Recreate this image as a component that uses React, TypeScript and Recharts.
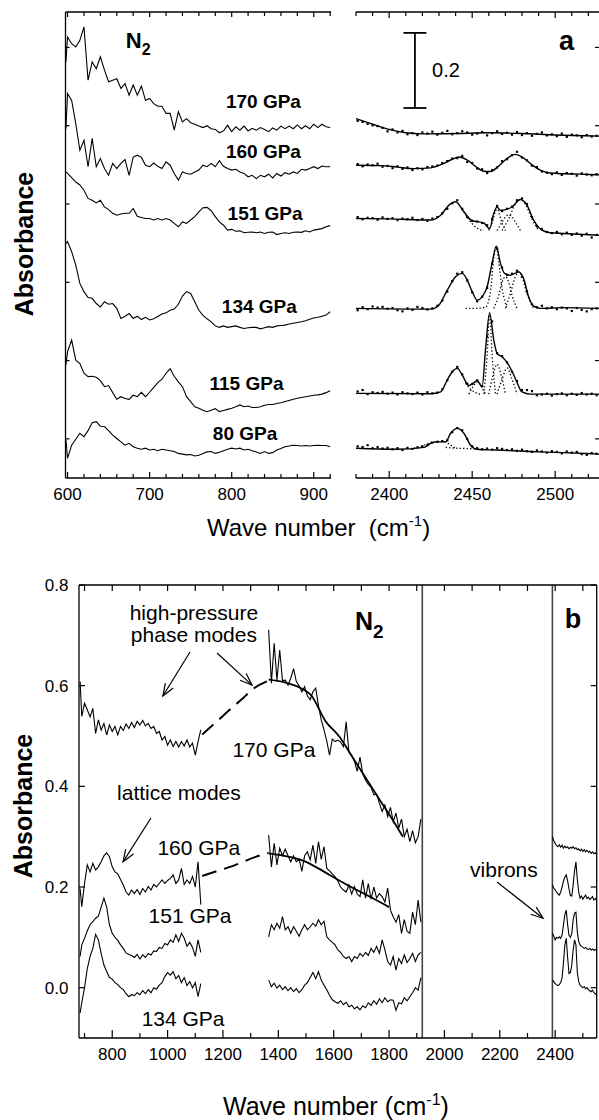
import React from 'react';
import { ComposedChart, Line, Scatter, XAxis, YAxis, ReferenceLine, ReferenceDot } from 'recharts';

const FONT = '"Liberation Sans", Arial, Helvetica, sans-serif';

// ---------------- Panel a (left): low-frequency spectra ----------------
const WN_A = [598, 600, 605, 610, 615, 620, 625, 630, 635, 640, 645, 650, 655, 660, 665, 670, 675, 680, 685, 690, 695, 700, 705, 710, 715, 720, 725, 730, 735, 740, 745, 750, 755, 760, 765, 770, 775, 780, 785, 790, 795, 800, 805, 810, 815, 820, 825, 830, 835, 840, 845, 850, 855, 860, 865, 870, 875, 880, 885, 890, 895, 900, 905, 910, 915, 920];
const A170 = [1.116, 1.183, 1.165, 1.156, 1.174, 1.210, 1.067, 1.116, 1.098, 1.130, 1.094, 1.063, 1.067, 1.071, 1.045, 1.058, 1.027, 1.054, 1.027, 1.051, 1.013, 1.018, 1.004, 0.997, 0.997, 0.978, 0.978, 0.933, 0.982, 0.955, 0.964, 0.953, 0.949, 0.944, 0.940, 0.945, 0.937, 0.935, 0.926, 0.931, 0.946, 0.929, 0.942, 0.933, 0.944, 0.931, 0.938, 0.933, 0.940, 0.935, 0.929, 0.939, 0.933, 0.944, 0.937, 0.944, 0.937, 0.947, 0.937, 0.945, 0.937, 0.949, 0.940, 0.949, 0.942, 0.940];
const A160 = [0.937, 1.031, 1.013, 0.951, 0.879, 0.906, 0.835, 0.911, 0.835, 0.857, 0.830, 0.812, 0.844, 0.830, 0.844, 0.854, 0.812, 0.861, 0.866, 0.860, 0.839, 0.835, 0.845, 0.836, 0.830, 0.848, 0.839, 0.817, 0.799, 0.821, 0.817, 0.815, 0.821, 0.826, 0.839, 0.835, 0.844, 0.835, 0.851, 0.836, 0.830, 0.826, 0.828, 0.821, 0.817, 0.808, 0.812, 0.803, 0.812, 0.808, 0.815, 0.805, 0.817, 0.810, 0.819, 0.815, 0.821, 0.817, 0.828, 0.826, 0.830, 0.835, 0.830, 0.837, 0.835, 0.835];
const A151 = [0.821, 0.817, 0.806, 0.794, 0.786, 0.772, 0.750, 0.745, 0.738, 0.745, 0.727, 0.720, 0.710, 0.705, 0.708, 0.710, 0.710, 0.723, 0.702, 0.699, 0.696, 0.696, 0.692, 0.696, 0.692, 0.696, 0.692, 0.683, 0.674, 0.687, 0.683, 0.692, 0.701, 0.714, 0.725, 0.726, 0.717, 0.701, 0.687, 0.678, 0.665, 0.667, 0.662, 0.663, 0.658, 0.659, 0.660, 0.658, 0.660, 0.656, 0.659, 0.660, 0.653, 0.656, 0.658, 0.656, 0.659, 0.660, 0.659, 0.663, 0.660, 0.665, 0.667, 0.669, 0.674, 0.677];
const A134 = [0.629, 0.634, 0.607, 0.571, 0.522, 0.500, 0.484, 0.482, 0.468, 0.459, 0.473, 0.466, 0.468, 0.455, 0.428, 0.434, 0.441, 0.428, 0.434, 0.425, 0.431, 0.424, 0.427, 0.433, 0.440, 0.443, 0.450, 0.453, 0.466, 0.488, 0.500, 0.495, 0.473, 0.450, 0.436, 0.427, 0.419, 0.408, 0.404, 0.408, 0.404, 0.406, 0.408, 0.404, 0.401, 0.403, 0.404, 0.404, 0.400, 0.403, 0.406, 0.404, 0.408, 0.409, 0.410, 0.413, 0.415, 0.417, 0.419, 0.422, 0.426, 0.429, 0.431, 0.434, 0.437, 0.446];
const A115 = [0.303, 0.339, 0.370, 0.316, 0.307, 0.281, 0.272, 0.273, 0.270, 0.261, 0.245, 0.248, 0.229, 0.211, 0.218, 0.213, 0.211, 0.222, 0.218, 0.230, 0.218, 0.230, 0.243, 0.256, 0.265, 0.281, 0.293, 0.273, 0.258, 0.245, 0.218, 0.205, 0.191, 0.187, 0.182, 0.178, 0.182, 0.186, 0.178, 0.181, 0.184, 0.187, 0.191, 0.196, 0.191, 0.193, 0.189, 0.189, 0.191, 0.195, 0.197, 0.197, 0.200, 0.202, 0.205, 0.208, 0.211, 0.214, 0.216, 0.218, 0.220, 0.222, 0.223, 0.225, 0.229, 0.234];
const A80 = [0.102, 0.053, 0.088, 0.104, 0.120, 0.111, 0.127, 0.148, 0.151, 0.139, 0.138, 0.127, 0.115, 0.106, 0.097, 0.088, 0.093, 0.084, 0.080, 0.077, 0.080, 0.075, 0.077, 0.073, 0.077, 0.075, 0.073, 0.071, 0.066, 0.064, 0.062, 0.063, 0.059, 0.061, 0.066, 0.070, 0.071, 0.066, 0.069, 0.073, 0.077, 0.080, 0.078, 0.080, 0.075, 0.077, 0.073, 0.070, 0.066, 0.071, 0.066, 0.068, 0.075, 0.079, 0.084, 0.086, 0.088, 0.087, 0.086, 0.087, 0.086, 0.087, 0.088, 0.087, 0.087, 0.084];

// ---------------- Panel a (right): vibron region, measured points ----------------
const DOT_X = [2381, 2384, 2387, 2390, 2393, 2396, 2399, 2402, 2405, 2408, 2411, 2414, 2417, 2420, 2423, 2426, 2429, 2432, 2435, 2438, 2441, 2444, 2447, 2450, 2453, 2456, 2459, 2462, 2465, 2468, 2471, 2474, 2477, 2480, 2483, 2486, 2489, 2492, 2495, 2498, 2501, 2504, 2507, 2510, 2513, 2516, 2519, 2522, 2525];
const D170 = [0.958, 0.955, 0.950, 0.946, 0.944, 0.939, 0.930, 0.935, 0.927, 0.931, 0.922, 0.925, 0.920, 0.927, 0.924, 0.929, 0.921, 0.926, 0.931, 0.922, 0.925, 0.930, 0.927, 0.921, 0.924, 0.928, 0.919, 0.925, 0.930, 0.923, 0.926, 0.921, 0.928, 0.920, 0.925, 0.918, 0.923, 0.927, 0.919, 0.922, 0.917, 0.924, 0.915, 0.921, 0.919, 0.914, 0.920, 0.916, 0.918];
const D160 = [0.842, 0.836, 0.841, 0.839, 0.843, 0.835, 0.837, 0.831, 0.836, 0.829, 0.833, 0.826, 0.831, 0.828, 0.834, 0.836, 0.838, 0.845, 0.850, 0.857, 0.858, 0.864, 0.848, 0.845, 0.830, 0.828, 0.818, 0.826, 0.833, 0.850, 0.855, 0.866, 0.875, 0.860, 0.852, 0.838, 0.834, 0.822, 0.819, 0.815, 0.820, 0.813, 0.818, 0.816, 0.811, 0.817, 0.814, 0.812, 0.815];
const D151 = [0.700, 0.694, 0.698, 0.697, 0.693, 0.699, 0.695, 0.697, 0.692, 0.696, 0.694, 0.698, 0.692, 0.695, 0.690, 0.696, 0.700, 0.710, 0.722, 0.737, 0.745, 0.722, 0.700, 0.690, 0.688, 0.684, 0.678, 0.695, 0.730, 0.716, 0.722, 0.728, 0.745, 0.750, 0.735, 0.700, 0.675, 0.668, 0.660, 0.657, 0.660, 0.654, 0.658, 0.652, 0.656, 0.650, 0.655, 0.645, 0.652];
const D134 = [0.450, 0.458, 0.453, 0.460, 0.457, 0.459, 0.454, 0.456, 0.450, 0.447, 0.455, 0.451, 0.459, 0.456, 0.452, 0.455, 0.462, 0.476, 0.500, 0.528, 0.548, 0.552, 0.530, 0.498, 0.474, 0.486, 0.510, 0.575, 0.615, 0.565, 0.545, 0.548, 0.556, 0.540, 0.500, 0.466, 0.458, 0.462, 0.455, 0.458, 0.453, 0.457, 0.455, 0.448, 0.456, 0.451, 0.447, 0.453, 0.455];
const D115 = [0.232, 0.236, 0.225, 0.230, 0.228, 0.231, 0.226, 0.229, 0.224, 0.230, 0.227, 0.225, 0.229, 0.224, 0.230, 0.227, 0.229, 0.238, 0.262, 0.285, 0.298, 0.278, 0.253, 0.252, 0.262, 0.246, 0.380, 0.420, 0.335, 0.327, 0.310, 0.285, 0.260, 0.236, 0.236, 0.233, 0.222, 0.224, 0.226, 0.221, 0.225, 0.227, 0.222, 0.226, 0.223, 0.228, 0.224, 0.226, 0.222];
const D80 = [0.085, 0.083, 0.088, 0.080, 0.083, 0.079, 0.081, 0.077, 0.080, 0.075, 0.081, 0.078, 0.082, 0.085, 0.088, 0.095, 0.097, 0.099, 0.101, 0.123, 0.134, 0.128, 0.105, 0.085, 0.080, 0.077, 0.079, 0.076, 0.080, 0.078, 0.075, 0.077, 0.073, 0.076, 0.072, 0.070, 0.074, 0.071, 0.068, 0.072, 0.070, 0.066, 0.071, 0.068, 0.070, 0.064, 0.062, 0.067, 0.065];

// fitted curves
const F170_X = [2380, 2390, 2400, 2410, 2420, 2440, 2460, 2480, 2500, 2527];
const F170_Y = [0.964, 0.949, 0.935, 0.926, 0.923, 0.924, 0.926, 0.924, 0.920, 0.917];
const F160_X = [2380, 2395, 2405, 2415, 2425, 2432, 2437, 2442, 2447, 2452, 2457, 2461, 2466, 2471, 2476, 2481, 2486, 2491, 2497, 2505, 2515, 2527];
const F160_Y = [0.839, 0.838, 0.834, 0.830, 0.832, 0.842, 0.853, 0.861, 0.853, 0.836, 0.823, 0.822, 0.837, 0.857, 0.868, 0.858, 0.840, 0.826, 0.818, 0.816, 0.815, 0.813];
const F151_X = [2380, 2400, 2425, 2431, 2436, 2440, 2445, 2450, 2454, 2457, 2460.5, 2463, 2465, 2467, 2470, 2474, 2479, 2483, 2487, 2492, 2497, 2505, 2527];
const F151_Y = [0.696, 0.695, 0.692, 0.705, 0.732, 0.741, 0.714, 0.690, 0.687, 0.684, 0.669, 0.710, 0.727, 0.718, 0.720, 0.727, 0.747, 0.732, 0.692, 0.665, 0.658, 0.656, 0.651];
const F134_X = [2380, 2425, 2430, 2435, 2440, 2444, 2447, 2450, 2453, 2456, 2459, 2462, 2464.5, 2467, 2469.5, 2473, 2478, 2481, 2484, 2487, 2491, 2505, 2527];
const F134_Y = [0.455, 0.453, 0.464, 0.504, 0.540, 0.549, 0.531, 0.500, 0.477, 0.486, 0.513, 0.576, 0.622, 0.576, 0.549, 0.544, 0.553, 0.535, 0.486, 0.461, 0.455, 0.457, 0.455];
const F115_X = [2380, 2425, 2431, 2435, 2438, 2441, 2444, 2448, 2451, 2453, 2456, 2458, 2460.5, 2463, 2465, 2468, 2472, 2476, 2480, 2485, 2505, 2527];
const F115_Y = [0.227, 0.226, 0.231, 0.263, 0.285, 0.294, 0.276, 0.248, 0.256, 0.261, 0.245, 0.343, 0.443, 0.370, 0.334, 0.325, 0.303, 0.267, 0.231, 0.225, 0.225, 0.225];
const F80_X = [2380, 2404, 2421, 2425, 2429, 2434, 2437, 2441, 2445, 2449, 2453, 2465, 2485, 2505, 2527];
const F80_Y = [0.080, 0.077, 0.082, 0.093, 0.097, 0.097, 0.120, 0.133, 0.120, 0.088, 0.077, 0.075, 0.071, 0.068, 0.064];

// fitted components (dotted)
const COMPONENTS: { x: number[]; y: number[] }[] = [
  { x: [2444, 2447, 2450, 2453, 2457], y: [0.722, 0.700, 0.682, 0.670, 0.664] },
  { x: [2460, 2462, 2464, 2465, 2466, 2468, 2470], y: [0.664, 0.685, 0.715, 0.727, 0.712, 0.684, 0.664] },
  { x: [2465, 2467.5, 2470, 2472, 2474, 2476.5, 2479], y: [0.664, 0.683, 0.700, 0.706, 0.700, 0.683, 0.664] },
  { x: [2468, 2472, 2476, 2479, 2482, 2486, 2490], y: [0.664, 0.695, 0.735, 0.747, 0.735, 0.695, 0.664] },
  { x: [2446, 2452, 2458, 2461, 2463, 2464.5, 2466, 2468, 2471], y: [0.455, 0.455, 0.458, 0.500, 0.590, 0.622, 0.580, 0.510, 0.455] },
  { x: [2463, 2466, 2468, 2470, 2472, 2474, 2477], y: [0.455, 0.490, 0.525, 0.540, 0.525, 0.490, 0.455] },
  { x: [2470, 2473, 2476, 2478, 2480, 2483, 2487], y: [0.455, 0.495, 0.540, 0.553, 0.540, 0.495, 0.455] },
  { x: [2446, 2449, 2452, 2455], y: [0.255, 0.238, 0.229, 0.225] },
  { x: [2448, 2450.5, 2453, 2455.5, 2458], y: [0.225, 0.245, 0.258, 0.245, 0.225] },
  { x: [2457, 2459, 2460.5, 2462, 2464], y: [0.225, 0.330, 0.443, 0.330, 0.225] },
  { x: [2460, 2462.5, 2465, 2467.5, 2470], y: [0.225, 0.275, 0.305, 0.275, 0.225] },
  { x: [2465, 2468, 2471, 2474, 2477], y: [0.225, 0.265, 0.295, 0.265, 0.225] },
  { x: [2415, 2420, 2425, 2430, 2434, 2437, 2440], y: [0.080, 0.086, 0.095, 0.098, 0.096, 0.088, 0.080] },
  { x: [2434, 2440, 2446, 2452], y: [0.082, 0.080, 0.079, 0.078] },
];

// ---------------- Panel b ----------------
const B_LOW_X = [684, 690, 700, 710, 720, 730, 740, 750, 760, 770, 780, 790, 800, 810, 820, 830, 840, 850, 860, 870, 880, 890, 900, 910, 920, 930, 940, 950, 960, 970, 980, 990, 1000, 1010, 1020, 1030, 1040, 1050, 1060, 1070, 1080, 1090, 1100, 1110, 1120];
const B_MID_X = [1365, 1375, 1385, 1395, 1405, 1415, 1425, 1435, 1445, 1455, 1465, 1475, 1485, 1495, 1505, 1515, 1525, 1535, 1545, 1555, 1565, 1575, 1585, 1595, 1605, 1615, 1625, 1635, 1645, 1655, 1665, 1675, 1685, 1695, 1705, 1715, 1725, 1735, 1745, 1755, 1765, 1775, 1785, 1795, 1805, 1815, 1825, 1835, 1845, 1855, 1865, 1875, 1885, 1895, 1905, 1915];
const B_VIB_X = [2390, 2395, 2400, 2405, 2410, 2415, 2420, 2425, 2430, 2435, 2440, 2445, 2450, 2455, 2460, 2465, 2470, 2475, 2480, 2485, 2490, 2495, 2500, 2505, 2510, 2515, 2520, 2525, 2530, 2535, 2540, 2545, 2550];

const B170_LOW = [0.608, 0.539, 0.565, 0.552, 0.538, 0.555, 0.505, 0.532, 0.512, 0.525, 0.502, 0.522, 0.509, 0.519, 0.502, 0.519, 0.511, 0.524, 0.515, 0.527, 0.517, 0.529, 0.522, 0.531, 0.520, 0.525, 0.515, 0.519, 0.505, 0.509, 0.492, 0.499, 0.482, 0.492, 0.479, 0.489, 0.478, 0.489, 0.480, 0.492, 0.478, 0.486, 0.462, 0.489, 0.512];
const B160_LOW = [0.197, 0.161, 0.207, 0.244, 0.230, 0.247, 0.234, 0.240, 0.250, 0.262, 0.268, 0.260, 0.240, 0.230, 0.226, 0.215, 0.204, 0.190, 0.184, 0.194, 0.187, 0.195, 0.185, 0.197, 0.190, 0.201, 0.194, 0.205, 0.200, 0.207, 0.214, 0.207, 0.213, 0.217, 0.224, 0.207, 0.214, 0.237, 0.205, 0.214, 0.207, 0.221, 0.200, 0.250, 0.165];
const B151_LOW = [0.062, 0.085, 0.098, 0.113, 0.125, 0.131, 0.138, 0.142, 0.160, 0.178, 0.160, 0.125, 0.108, 0.100, 0.094, 0.085, 0.078, 0.069, 0.066, 0.064, 0.060, 0.066, 0.057, 0.065, 0.060, 0.068, 0.065, 0.073, 0.072, 0.080, 0.078, 0.088, 0.085, 0.095, 0.090, 0.105, 0.092, 0.108, 0.098, 0.082, 0.090, 0.080, 0.062, 0.095, 0.070];
const B134_LOW = [-0.050, -0.030, 0.000, 0.038, 0.062, 0.078, 0.106, 0.095, 0.068, 0.045, 0.032, 0.020, 0.017, 0.010, 0.006, 0.000, -0.004, -0.012, -0.018, -0.014, -0.016, -0.010, -0.014, -0.006, -0.012, -0.004, -0.010, 0.000, -0.003, 0.005, 0.010, 0.022, 0.030, 0.025, 0.032, 0.018, 0.024, 0.010, 0.020, 0.004, 0.012, 0.000, 0.010, -0.018, 0.008];

const B170_MID = [0.711, 0.605, 0.684, 0.611, 0.671, 0.610, 0.611, 0.601, 0.615, 0.634, 0.608, 0.600, 0.588, 0.598, 0.580, 0.572, 0.588, 0.595, 0.560, 0.532, 0.512, 0.490, 0.462, 0.494, 0.489, 0.492, 0.488, 0.479, 0.528, 0.468, 0.462, 0.450, 0.430, 0.458, 0.425, 0.412, 0.404, 0.398, 0.383, 0.385, 0.366, 0.350, 0.363, 0.340, 0.358, 0.330, 0.347, 0.317, 0.335, 0.300, 0.315, 0.290, 0.312, 0.288, 0.300, 0.335];
const B160_MID = [0.303, 0.240, 0.287, 0.244, 0.277, 0.262, 0.275, 0.262, 0.250, 0.262, 0.250, 0.256, 0.231, 0.262, 0.270, 0.254, 0.283, 0.247, 0.290, 0.255, 0.280, 0.237, 0.232, 0.226, 0.220, 0.212, 0.200, 0.194, 0.190, 0.204, 0.186, 0.201, 0.186, 0.181, 0.214, 0.178, 0.207, 0.176, 0.200, 0.178, 0.187, 0.181, 0.170, 0.198, 0.154, 0.141, 0.130, 0.145, 0.108, 0.135, 0.112, 0.108, 0.150, 0.125, 0.174, 0.130];
const B151_MID = [0.101, 0.125, 0.115, 0.128, 0.118, 0.141, 0.115, 0.121, 0.108, 0.121, 0.112, 0.102, 0.115, 0.125, 0.115, 0.121, 0.128, 0.122, 0.135, 0.125, 0.132, 0.101, 0.095, 0.090, 0.085, 0.075, 0.070, 0.062, 0.058, 0.062, 0.052, 0.062, 0.058, 0.068, 0.062, 0.070, 0.064, 0.078, 0.070, 0.082, 0.068, 0.095, 0.075, 0.052, 0.045, 0.062, 0.035, 0.058, 0.048, 0.065, 0.050, 0.058, 0.068, 0.052, 0.065, 0.070];
const B134_MID = [0.015, 0.002, 0.009, -0.001, 0.005, -0.004, 0.002, -0.006, 0.000, -0.008, -0.002, -0.010, -0.004, 0.005, 0.010, 0.020, 0.030, 0.018, 0.032, 0.015, 0.005, -0.004, -0.015, -0.024, -0.028, -0.031, -0.026, -0.034, -0.029, -0.038, -0.035, -0.042, -0.038, -0.044, -0.036, -0.040, -0.030, -0.035, -0.026, -0.033, -0.022, -0.030, -0.020, -0.028, -0.024, -0.025, -0.045, -0.030, -0.032, -0.020, -0.026, -0.018, -0.010, 0.000, -0.005, 0.020];

const V170 = [0.300, 0.292, 0.287, 0.282, 0.280, 0.284, 0.279, 0.283, 0.277, 0.281, 0.278, 0.280, 0.276, 0.279, 0.277, 0.280, 0.276, 0.278, 0.274, 0.276, 0.272, 0.275, 0.271, 0.274, 0.270, 0.273, 0.269, 0.271, 0.267, 0.270, 0.266, 0.268, 0.264];
const V160 = [0.204, 0.198, 0.194, 0.190, 0.186, 0.184, 0.190, 0.200, 0.212, 0.220, 0.224, 0.212, 0.196, 0.183, 0.182, 0.205, 0.232, 0.250, 0.215, 0.190, 0.178, 0.182, 0.176, 0.180, 0.184, 0.177, 0.180, 0.175, 0.178, 0.181, 0.174, 0.177, 0.174];
const V151 = [0.108, 0.102, 0.095, 0.100, 0.098, 0.101, 0.098, 0.105, 0.125, 0.145, 0.154, 0.125, 0.104, 0.100, 0.108, 0.135, 0.148, 0.150, 0.110, 0.092, 0.085, 0.082, 0.080, 0.078, 0.080, 0.077, 0.076, 0.078, 0.075, 0.077, 0.074, 0.076, 0.074];
const V134 = [0.015, 0.012, 0.008, 0.006, 0.004, 0.006, 0.010, 0.020, 0.050, 0.085, 0.098, 0.060, 0.028, 0.030, 0.045, 0.075, 0.095, 0.085, 0.030, 0.012, 0.005, 0.002, 0.000, 0.002, -0.002, 0.000, -0.004, -0.006, -0.008, -0.005, -0.010, -0.012, -0.014];

const DASH170_X = [1125, 1180, 1230, 1270, 1310, 1365];
const DASH170_Y = [0.503, 0.530, 0.555, 0.574, 0.594, 0.610];
const DASH160_X = [1125, 1180, 1237, 1290, 1330, 1365];
const DASH160_Y = [0.222, 0.232, 0.242, 0.254, 0.262, 0.268];
const FIT170_X = [1365, 1420, 1470, 1520, 1570, 1620, 1670, 1720, 1770, 1820, 1850];
const FIT170_Y = [0.612, 0.607, 0.598, 0.580, 0.530, 0.499, 0.456, 0.413, 0.370, 0.327, 0.300];
const FIT160_X = [1365, 1440, 1500, 1560, 1620, 1680, 1740, 1800];
const FIT160_Y = [0.267, 0.260, 0.250, 0.232, 0.213, 0.195, 0.178, 0.160];

// ticks
const TL_TICKS = [600, 620, 640, 660, 680, 700, 720, 740, 760, 780, 800, 820, 840, 860, 880, 900, 920];
const TL_MAJOR = [600, 700, 800, 900];
const TR_TICKS = [2380, 2390, 2400, 2410, 2420, 2430, 2440, 2450, 2460, 2470, 2480, 2490, 2500, 2510, 2520];
const TR_MAJOR = [2400, 2450, 2500];
const TOP_Y_TICKS = [0.105, 0.315, 0.525, 0.735, 0.945, 1.155];
const B_TICKS = [700, 800, 900, 1000, 1100, 1200, 1300, 1400, 1500, 1600, 1700, 1800, 1900, 2000, 2100, 2200, 2300, 2400, 2500];
const B_MAJOR = [800, 1000, 1200, 1400, 1600, 1800, 2000, 2200, 2400];
const B_Y_TICKS = [0, 0.2, 0.4, 0.6, 0.8];

const pts = (xs: number[], ys: number[]) => xs.map((x, i) => ({ x, y: ys[i] }));

const tickRenderer = (side: string, majors: number[], majorLen: number, minorLen: number, labels: boolean, fmt?: (v: number) => string) =>
  (props: any) => {
    const { x, y, payload } = props;
    const v = payload.value;
    const major = majors.indexOf(v) >= 0;
    const len = major ? majorLen : minorLen;
    let x2 = x;
    let y2 = y;
    if (side === 'bottom') y2 = y - len;
    else if (side === 'top') y2 = y + len;
    else if (side === 'left') x2 = x + len;
    else x2 = x - len;
    const s = fmt ? fmt(v) : String(v);
    return (
      <g>
        <line x1={x} y1={y} x2={x2} y2={y2} stroke="#000" strokeWidth={1.2} />
        {labels && major && side === 'bottom' && (
          <text x={x} y={y + 22} textAnchor="middle" fontSize={17} fontFamily={FONT} fill="#000">{s}</text>
        )}
        {labels && major && side === 'left' && (
          <text x={x - 10.5} y={y + 6} textAnchor="end" fontSize={17} fontFamily={FONT} fill="#000">{s}</text>
        )}
      </g>
    );
  };

const textShape = (content: React.ReactNode, size: number, bold: boolean, anchor: string) => (p: any) => (
  <text x={p.cx} y={p.cy} fontSize={size} fontWeight={bold ? 'bold' : 'normal'} textAnchor={anchor} fontFamily={FONT} fill="#000">
    {content}
  </text>
);

const arrowShape = (p: any) => {
  const { x1, y1, x2, y2 } = p;
  const dx = x2 - x1;
  const dy = y2 - y1;
  const L = Math.hypot(dx, dy) || 1;
  const bx = -dx / L;
  const by = -dy / L;
  const a = 0.36;
  const c = Math.cos(a);
  const s = Math.sin(a);
  const h = 13;
  const p1x = x2 + h * (bx * c - by * s);
  const p1y = y2 + h * (bx * s + by * c);
  const p2x = x2 + h * (bx * c + by * s);
  const p2y = y2 + h * (-bx * s + by * c);
  return (
    <g>
      <line x1={x1} y1={y1} x2={x2} y2={y2} stroke="#000" strokeWidth={1.2} />
      <polyline points={`${p1x},${p1y} ${x2},${y2} ${p2x},${p2y}`} fill="none" stroke="#000" strokeWidth={1.2} />
    </g>
  );
};

const scaleBarShape = (p: any) => {
  const { x1, y1, x2, y2 } = p;
  return (
    <g>
      <line x1={x1} y1={y1} x2={x2} y2={y2} stroke="#000" strokeWidth={1.8} />
      <line x1={x1 - 11.5} y1={y1} x2={x1 + 11.5} y2={y1} stroke="#000" strokeWidth={1.8} />
      <line x1={x2 - 11.5} y1={y2} x2={x2 + 11.5} y2={y2} stroke="#000" strokeWidth={1.8} />
    </g>
  );
};

const dotShape = (p: any) => <rect x={p.cx - 1.1} y={p.cy - 1.1} width={2.2} height={2.2} fill="#000" />;

const axisLine = { stroke: '#000', strokeWidth: 1.3 };

function TopLeft() {
  const series = [A170, A160, A151, A134, A115, A80];
  const labels = [
    { t: '170 GPa', x: 793, y: 0.992 },
    { t: '160 GPa', x: 793, y: 0.858 },
    { t: '151 GPa', x: 795, y: 0.692 },
    { t: '134 GPa', x: 788, y: 0.443 },
    { t: '115 GPa', x: 773, y: 0.236 },
    { t: '80 GPa', x: 777, y: 0.102 },
  ];
  return (
    <ComposedChart width={340} height={520} margin={{ top: 11, right: 9, bottom: 41, left: 64.5 }}>
      <XAxis type="number" dataKey="x" domain={[597.5, 921]} allowDataOverflow ticks={TL_TICKS} interval={0} height={1} tickSize={0} tickMargin={0} axisLine={axisLine} tickLine={false} tick={tickRenderer('bottom', TL_MAJOR, 6, 4, true)} />
      <XAxis xAxisId="top" orientation="top" type="number" dataKey="x" domain={[597.5, 921]} allowDataOverflow ticks={TL_TICKS} interval={0} height={1} tickSize={0} tickMargin={0} axisLine={axisLine} tickLine={false} tick={tickRenderer('top', TL_MAJOR, 5, 4, false)} />
      <YAxis type="number" dataKey="y" domain={[0, 1.25]} allowDataOverflow ticks={TOP_Y_TICKS} interval={0} width={1} tickSize={0} tickMargin={0} axisLine={axisLine} tickLine={false} tick={tickRenderer('left', TOP_Y_TICKS, 4, 4, false)} />
      {series.map((s, i) => (
        <Line key={i} data={pts(WN_A, s)} dataKey="y" type="linear" stroke="#000" strokeWidth={1.1} dot={false} isAnimationActive={false} />
      ))}
      {labels.map((l) => (
        <ReferenceDot key={l.t} x={l.x} y={l.y} r={1} shape={textShape(l.t, 19, true, 'start')} />
      ))}
      <ReferenceDot x={671} y={1.153} r={1} shape={textShape(<>N<tspan fontSize={16} dy={7}>2</tspan></>, 22, true, 'start')} />
    </ComposedChart>
  );
}

function TopRight() {
  const fits = [pts(F170_X, F170_Y), pts(F160_X, F160_Y), pts(F151_X, F151_Y), pts(F134_X, F134_Y), pts(F115_X, F115_Y), pts(F80_X, F80_Y)];
  const dots = [D170, D160, D151, D134, D115, D80];
  return (
    <ComposedChart width={270} height={520} margin={{ top: 11, right: 9, bottom: 41, left: 16 }}>
      <XAxis type="number" dataKey="x" domain={[2380, 2527]} allowDataOverflow ticks={TR_TICKS} interval={0} height={1} tickSize={0} tickMargin={0} axisLine={axisLine} tickLine={false} tick={tickRenderer('bottom', TR_MAJOR, 7, 4, true)} />
      <XAxis xAxisId="top" orientation="top" type="number" dataKey="x" domain={[2380, 2527]} allowDataOverflow ticks={TR_TICKS} interval={0} height={1} tickSize={0} tickMargin={0} axisLine={axisLine} tickLine={false} tick={tickRenderer('top', TR_MAJOR, 6, 4, false)} />
      <YAxis type="number" dataKey="y" domain={[0, 1.25]} allowDataOverflow hide width={0} />
      <YAxis yAxisId="r" orientation="right" type="number" dataKey="y" domain={[0, 1.25]} allowDataOverflow ticks={TOP_Y_TICKS} interval={0} width={1} tickSize={0} tickMargin={0} axisLine={axisLine} tickLine={false} tick={tickRenderer('right', TOP_Y_TICKS, 5, 5, false)} />
      {COMPONENTS.map((c, i) => (
        <Line key={'c' + i} data={pts(c.x, c.y)} dataKey="y" type="monotone" stroke="#000" strokeWidth={1.3} strokeDasharray="1.3 2.2" dot={false} isAnimationActive={false} />
      ))}
      {fits.map((f, i) => (
        <Line key={'f' + i} data={f} dataKey="y" type="monotone" stroke="#000" strokeWidth={1.4} dot={false} isAnimationActive={false} />
      ))}
      {dots.map((d, i) => (
        <Scatter key={'d' + i} data={pts(DOT_X, d)} dataKey="y" shape={dotShape} isAnimationActive={false} />
      ))}
      <ReferenceLine segment={[{ x: 2415.5, y: 0.9925 }, { x: 2415.5, y: 1.194 }]} shape={scaleBarShape} ifOverflow="visible" />
      <ReferenceDot x={2425.8} y={1.076} r={1} shape={textShape('0.2', 20, false, 'start')} />
      <ReferenceDot x={2502.3} y={1.148} r={1} shape={textShape('a', 27, true, 'start')} />
    </ComposedChart>
  );
}

function Bottom() {
  const noisy = [
    pts(B_LOW_X, B170_LOW), pts(B_MID_X, B170_MID), pts(B_VIB_X, V170),
    pts(B_LOW_X, B160_LOW), pts(B_MID_X, B160_MID), pts(B_VIB_X, V160),
    pts(B_LOW_X, B151_LOW), pts(B_MID_X, B151_MID), pts(B_VIB_X, V151),
    pts(B_LOW_X, B134_LOW), pts(B_MID_X, B134_MID), pts(B_VIB_X, V134),
  ];
  const labels = [
    { t: 'high-pressure', x: 1095, y: 0.730 },
    { t: 'phase modes', x: 1095, y: 0.687 },
    { t: '170 GPa', x: 1384, y: 0.458 },
    { t: 'lattice modes', x: 1041, y: 0.373 },
    { t: '160 GPa', x: 1113, y: 0.264 },
    { t: '151 GPa', x: 1081, y: 0.128 },
    { t: '134 GPa', x: 1056, y: -0.076 },
    { t: 'vibrons', x: 2215, y: 0.220 },
  ];
  const arrows = [
    [{ x: 1081, y: 0.667 }, { x: 983, y: 0.5795 }],
    [{ x: 1178.5, y: 0.665 }, { x: 1305, y: 0.601 }],
    [{ x: 940, y: 0.337 }, { x: 839, y: 0.250 }],
    [{ x: 2190, y: 0.210 }, { x: 2356, y: 0.138 }],
  ];
  return (
    <ComposedChart width={599} height={560} margin={{ top: 24, right: 1.3, bottom: 81, left: 78 }}>
      <XAxis type="number" dataKey="x" domain={[680, 2550]} allowDataOverflow ticks={B_TICKS} interval={0} height={1} tickSize={0} tickMargin={0} axisLine={axisLine} tickLine={false} tick={tickRenderer('bottom', B_MAJOR, 8, 5, true)} />
      <XAxis xAxisId="top" orientation="top" type="number" dataKey="x" domain={[680, 2550]} allowDataOverflow ticks={B_TICKS} interval={0} height={1} tickSize={0} tickMargin={0} axisLine={axisLine} tickLine={false} tick={tickRenderer('top', [], 6, 6, false)} />
      <YAxis type="number" dataKey="y" domain={[-0.1, 0.8]} allowDataOverflow ticks={B_Y_TICKS} interval={0} width={1} tickSize={0} tickMargin={0} axisLine={axisLine} tickLine={false} tick={tickRenderer('left', B_Y_TICKS, 6, 6, true, (v) => v.toFixed(1))} />
      <YAxis yAxisId="r" orientation="right" type="number" dataKey="y" domain={[-0.1, 0.8]} allowDataOverflow ticks={B_Y_TICKS} interval={0} width={1} tickSize={0} tickMargin={0} axisLine={axisLine} tickLine={false} tick={tickRenderer('right', B_Y_TICKS, 6, 6, false)} />
      <ReferenceLine x={1920} stroke="#444" strokeWidth={1.6} />
      <ReferenceLine x={2390} stroke="#444" strokeWidth={1.6} />
      {noisy.map((d, i) => (
        <Line key={'n' + i} data={d} dataKey="y" type="linear" stroke="#000" strokeWidth={1.1} dot={false} isAnimationActive={false} />
      ))}
      <Line data={pts(DASH170_X, DASH170_Y)} dataKey="y" type="monotone" stroke="#000" strokeWidth={2} strokeDasharray="15 8" dot={false} isAnimationActive={false} />
      <Line data={pts(DASH160_X, DASH160_Y)} dataKey="y" type="monotone" stroke="#000" strokeWidth={2} strokeDasharray="15 8" dot={false} isAnimationActive={false} />
      <Line data={pts(FIT170_X, FIT170_Y)} dataKey="y" type="monotone" stroke="#000" strokeWidth={1.8} dot={false} isAnimationActive={false} />
      <Line data={pts(FIT160_X, FIT160_Y)} dataKey="y" type="monotone" stroke="#000" strokeWidth={1.8} dot={false} isAnimationActive={false} />
      {arrows.map((a, i) => (
        <ReferenceLine key={'a' + i} segment={a} shape={arrowShape} ifOverflow="visible" />
      ))}
      {labels.map((l) => (
        <ReferenceDot key={l.t} x={l.x} y={l.y} r={1} shape={textShape(l.t, 21, false, 'middle')} />
      ))}
      <ReferenceDot x={1677} y={0.711} r={1} shape={textShape(<>N<tspan fontSize={19} dy={8}>2</tspan></>, 25, true, 'start')} />
      <ReferenceDot x={2435} y={0.715} r={1} shape={textShape('b', 27, true, 'start')} />
    </ComposedChart>
  );
}

export default function App() {
  return (
    <div style={{ position: 'absolute', left: 0, top: 0, width: 599, height: 1120, overflow: 'hidden', background: '#fff' }}>
      <div style={{ position: 'absolute', left: 0, top: 0 }}>
        <TopLeft />
      </div>
      <div style={{ position: 'absolute', left: 340, top: 0 }}>
        <TopRight />
      </div>
      <div style={{ position: 'absolute', left: 0, top: 560 }}>
        <Bottom />
      </div>
      <svg width={599} height={1120} style={{ position: 'absolute', left: 0, top: 0, pointerEvents: 'none' }}>
        <text transform="translate(33,244) rotate(-90)" textAnchor="middle" fontSize={25} fontWeight="bold" fontFamily={FONT} fill="#000">Absorbance</text>
        <text transform="translate(32,806) rotate(-90)" textAnchor="middle" fontSize={25} fontWeight="bold" fontFamily={FONT} fill="#000">Absorbance</text>
        <text x={207} y={536} fontSize={24} fontFamily={FONT} fill="#000" style={{ whiteSpace: 'pre' }}>
          Wave number  (cm<tspan dy={-10} fontSize={15}>-1</tspan><tspan dy={10}>)</tspan>
        </text>
        <text x={223} y={1115} fontSize={25} fontFamily={FONT} fill="#000" style={{ whiteSpace: 'pre' }}>
          Wave number (cm<tspan dy={-10} fontSize={16}>-1</tspan><tspan dy={10}>)</tspan>
        </text>
      </svg>
    </div>
  );
}
